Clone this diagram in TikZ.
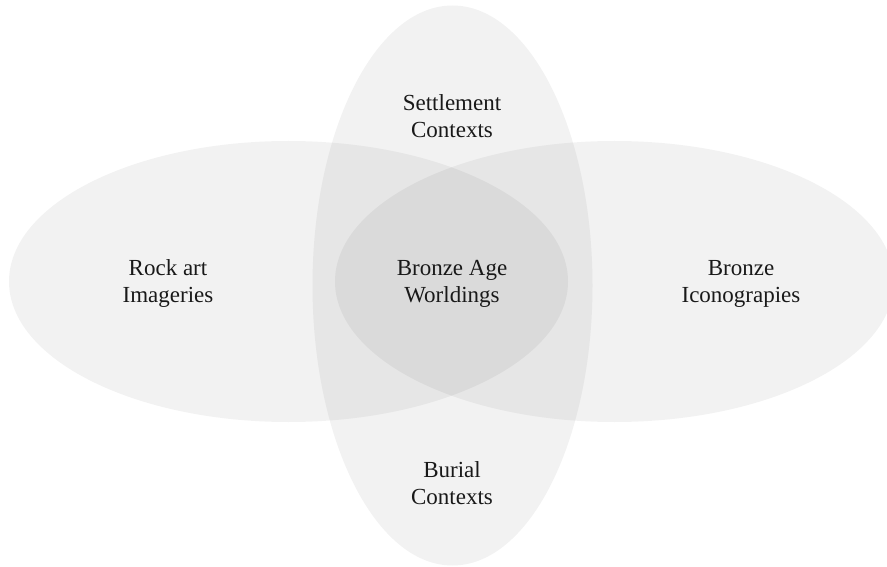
\documentclass[tikz,border=0pt]{standalone}
\usepackage{fontspec}
\setmainfont{Liberation Serif}
\begin{document}
\begin{tikzpicture}[x=1pt,y=1pt,
  blob/.style={fill=black,fill opacity=0.051},
  lbl/.style={align=center,font=\fontsize{23}{27}\selectfont,text=black!90,inner sep=0pt}]
\useasboundingbox (0,0) rectangle (887,566);
\clip (0,0) rectangle (887,566);
\fill[blob] (288.5,284.5) ellipse [x radius=279.5pt, y radius=140.5pt];
\fill[blob] (614.5,284.5) ellipse [x radius=279.5pt, y radius=140.5pt];
\fill[blob] (452.5,280.5) ellipse [x radius=140pt, y radius=280pt];
\node[lbl] (settle) at (452,450) {Settlement\\Contexts};
\node[lbl] (rock) at (168,282.5) {Rock art\\Imageries};
\node[lbl] (core) at (452,282.5) {Bronze Age\\Worldings};
\node[lbl] (bronze) at (741,282.5) {Bronze\\Iconograpies};
\node[lbl] (burial) at (452,83) {Burial\\Contexts};
\end{tikzpicture}
\end{document}
